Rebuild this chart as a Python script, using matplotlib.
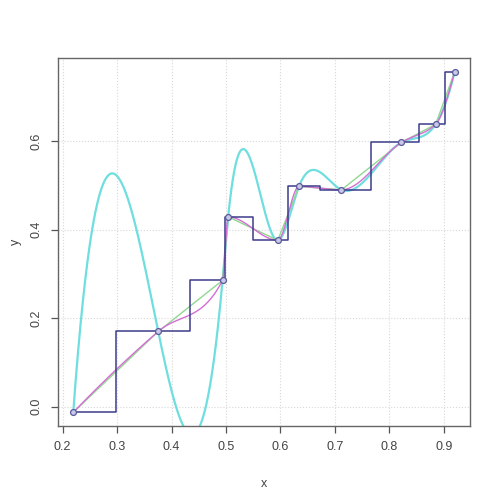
import numpy as np
import matplotlib
matplotlib.use("Agg")
import matplotlib.pyplot as plt

plt.rcParams["font.family"] = ["Liberation Sans", "DejaVu Sans"]

# data points
x_pts = [0.2195, 0.3755, 0.4936, 0.5040, 0.595, 0.634, 0.712, 0.822, 0.885, 0.920]
y_pts = [-0.0127, 0.170, 0.2855, 0.429, 0.376, 0.4976, 0.490, 0.597, 0.638, 0.757]

x_ticks = [0.2, 0.3, 0.4, 0.5, 0.6, 0.7, 0.8, 0.9]
y_ticks = [0.0, 0.2, 0.4, 0.6]

xp = np.array(x_pts)
yp = np.array(y_pts)
xx = np.linspace(xp.min(), xp.max(), 800)


def hermite(x, y, m, xn):
    h = np.diff(x)
    idx = np.clip(np.searchsorted(x, xn) - 1, 0, len(x) - 2)
    t = (xn - x[idx]) / h[idx]
    h00 = 2 * t**3 - 3 * t**2 + 1
    h10 = t**3 - 2 * t**2 + t
    h01 = -2 * t**3 + 3 * t**2
    h11 = t**3 - t**2
    return (h00 * y[idx] + h10 * h[idx] * m[idx]
            + h01 * y[idx + 1] + h11 * h[idx] * m[idx + 1])


def pchip(x, y, xn):
    h = np.diff(x)
    d = np.diff(y) / h
    n = len(x)
    m = np.zeros(n)
    for k in range(1, n - 1):
        if d[k - 1] * d[k] > 0:
            w1 = 2 * h[k] + h[k - 1]
            w2 = h[k] + 2 * h[k - 1]
            m[k] = (w1 + w2) / (w1 / d[k - 1] + w2 / d[k])
    m[0] = ((2 * h[0] + h[1]) * d[0] - h[0] * d[1]) / (h[0] + h[1])
    if np.sign(m[0]) != np.sign(d[0]):
        m[0] = 0
    m[-1] = ((2 * h[-1] + h[-2]) * d[-1] - h[-1] * d[-2]) / (h[-1] + h[-2])
    if np.sign(m[-1]) != np.sign(d[-1]):
        m[-1] = 0
    return hermite(x, y, m, xn)


def divdiff3(x, y):
    c = list(y)
    for j in range(1, 4):
        c = [(c[i + 1] - c[i]) / (x[i + j] - x[i]) for i in range(len(c) - 1)]
    return c[0]


def fmm_spline(x, y, xn):
    # cubic spline with FMM end conditions (R's spline() default)
    n = len(x)
    h = np.diff(x)
    d = np.diff(y) / h
    A = np.zeros((n, n))
    b = np.zeros(n)
    for i in range(1, n - 1):
        A[i, i - 1] = h[i - 1]
        A[i, i] = 2 * (h[i - 1] + h[i])
        A[i, i + 1] = h[i]
        b[i] = 6 * (d[i] - d[i - 1])
    A[0, 0], A[0, 1] = -1 / h[0], 1 / h[0]
    b[0] = 6 * divdiff3(x[:4], y[:4])
    A[-1, -2], A[-1, -1] = -1 / h[-1], 1 / h[-1]
    b[-1] = 6 * divdiff3(x[-4:], y[-4:])
    M = np.linalg.solve(A, b)
    idx = np.clip(np.searchsorted(x, xn) - 1, 0, n - 2)
    a = x[idx + 1] - xn
    c = xn - x[idx]
    hh = h[idx]
    return (M[idx] * a**3 / (6 * hh) + M[idx + 1] * c**3 / (6 * hh)
            + (y[idx] / hh - M[idx] * hh / 6) * a
            + (y[idx + 1] / hh - M[idx + 1] * hh / 6) * c)


# nearest neighbour step
mids = (xp[:-1] + xp[1:]) / 2
step_x = np.concatenate([[xp[0]], np.repeat(mids, 2), [xp[-1]]])
step_y = np.repeat(yp, 2)

fig = plt.figure(figsize=(5, 4.99), dpi=100)
ax = fig.add_axes([0.116, 0.1463, 0.824, 0.7375])

xr = xp.max() - xp.min()
yr = yp.max() - yp.min()
ax.set_xlim(xp.min() - 0.04 * xr, xp.max() + 0.04 * xr)
ax.set_ylim(yp.min() - 0.04 * yr, yp.max() + 0.04 * yr)

ax.grid(True, color="#d8d8d8", linestyle=":", linewidth=0.8)
ax.set_axisbelow(True)

ax.plot(xx, fmm_spline(xp, yp, xx), color="#6fdede", linewidth=1.6, zorder=2)
ax.plot(xp, yp, color="#90d890", linewidth=1.0, zorder=3)
ax.plot(xx, pchip(xp, yp, xx), color="#d46ed4", linewidth=1.0, zorder=4)
ax.plot(step_x, step_y, color="#3c3c8c", linewidth=1.1, zorder=5)
ax.scatter(xp, yp, s=18, facecolor="#c8c8e8", edgecolor="#5a5a9a",
           linewidth=0.9, zorder=6)

ax.set_xticks(x_ticks)
ax.set_yticks(y_ticks)
ax.set_xticklabels([f"{v:.1f}" for v in x_ticks])
ax.set_yticklabels([f"{v:.1f}" for v in y_ticks], rotation=90, va="center")
ax.tick_params(colors="#555555", labelsize=9, length=5, width=0.9,
               labelcolor="#444444", pad=6)
for s in ax.spines.values():
    s.set_color("#666666")
    s.set_linewidth(1.0)

ax.set_xlabel("x", fontsize=9, color="#444444", labelpad=18)
ax.set_ylabel("y", fontsize=9, color="#444444", labelpad=6)

fig.savefig("out.png", dpi=100)
